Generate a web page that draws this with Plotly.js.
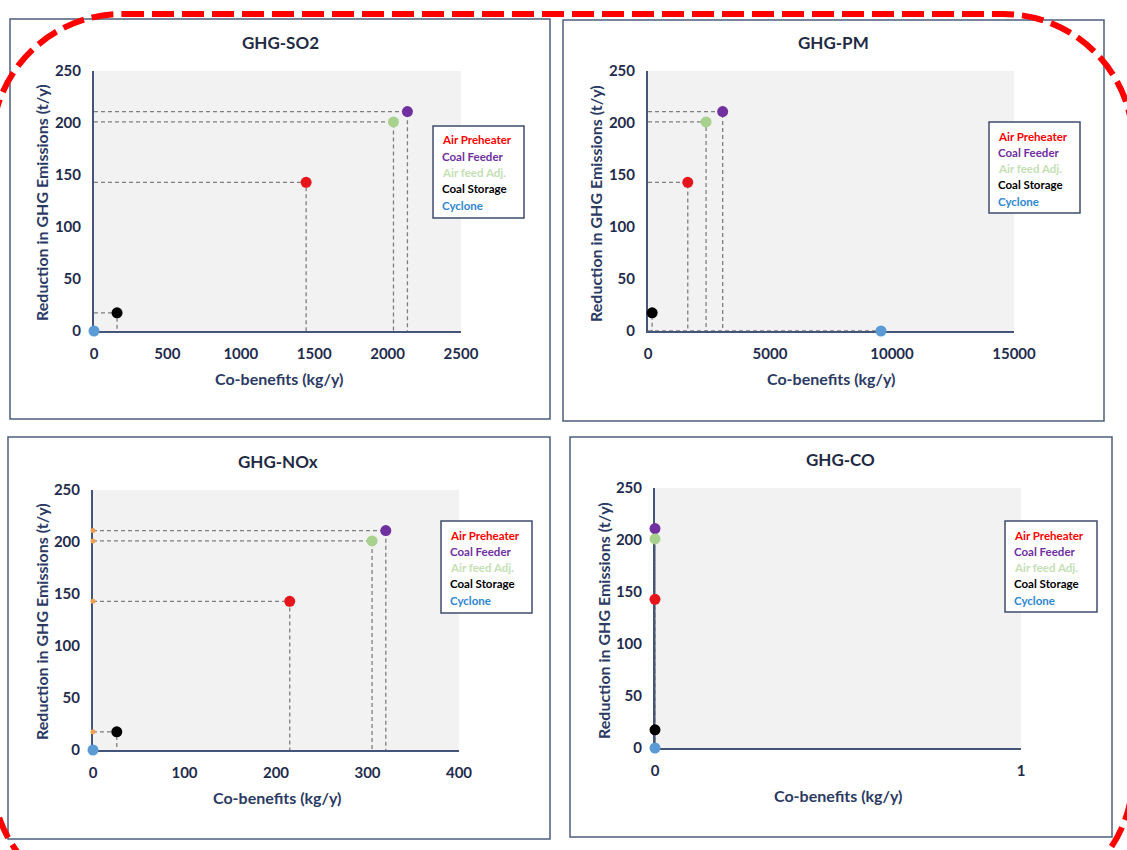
<!DOCTYPE html>
<html><head><meta charset="utf-8">
<script src="https://cdn.plot.ly/plotly-3.0.1.min.js"></script>
<style>html,body{margin:0;padding:0;background:#fff}#chart{width:1127px;height:850px}</style>
</head><body><div id="chart"></div>
<script>
// ---------------- data ----------------
const categories = ['Air Preheater', 'Coal Feeder', 'Air feed Adj.', 'Coal Storage', 'Cyclone'];
const ghgReduction = [143, 211, 201, 17.5, 0];          // t/y
const coBenefitsSO2 = [1445, 2135, 2040, 157, 0];       // kg/y
const coBenefitsPM  = [1630, 3060, 2380, 170, 9550];    // kg/y
const coBenefitsNOx = [215, 320, 305, 26, 0];           // kg/y
const coBenefitsCO  = [0, 0, 0, 0, 0];                  // kg/y
const panelTitles = ['GHG-SO2', 'GHG-PM', 'GHG-NOx', 'GHG-CO'];
const xTicksSO2 = [0, 500, 1000, 1500, 2000, 2500];
const xTicksPM  = [0, 5000, 10000, 15000];
const xTicksNOx = [0, 100, 200, 300, 400];
const xTicksCO  = [0, 1];
const yTicks = [0, 50, 100, 150, 200, 250];
const xAxisTitle = 'Co-benefits (kg/y)';
const yAxisTitle = 'Reduction in GHG Emissions (t/y)';

// ---------------- styles ----------------
const markerColors = ['#E8141C', '#7030A0', '#A9D18E', '#000000', '#5B9BD5'];
const legendColors = ['#FF0000', '#7030A0', '#C5E0B4', '#000000', '#2E86D0'];
const FONT = 'Lato, "Open Sans", "DejaVu Sans", sans-serif';
const NAVY = '#1F2B4D';
const W = 1127, H = 850;
const px = x => x / W;
const py = y => 1 - y / H;

const panels = [
  {values: coBenefitsSO2, xticks: xTicksSO2, plot: [94, 461, 71, 331], box: [10, 550, 19, 419],
   title: [280, 42], xtitle: [279, 379], ytitle: [42, 203], legend: [433, 524, 126, 218]},
  {values: coBenefitsPM, xticks: xTicksPM, plot: [648, 1014, 71, 331], box: [563, 1104, 20, 421],
   title: [833, 43], xtitle: [831, 379], ytitle: [595, 204], legend: [989, 1080, 122, 213]},
  {values: coBenefitsNOx, xticks: xTicksNOx, plot: [93, 459, 490, 750], box: [8, 550, 437, 839],
   title: [278, 461], xtitle: [277, 797], ytitle: [41, 622], legend: [441, 532, 521, 613], axisMarks: true},
  {values: coBenefitsCO, xticks: xTicksCO, plot: [655, 1021, 488, 748], box: [570, 1112, 437, 837],
   title: [840, 459], xtitle: [838, 795], ytitle: [603, 620], legend: [1005, 1097, 521, 612]}
];

const traces = [];
const annotations = [];
const shapes = [];
const layout = {
  width: W, height: H,
  margin: {l: 0, r: 0, t: 0, b: 0},
  paper_bgcolor: '#ffffff',
  plot_bgcolor: '#F2F2F2',
  showlegend: false,
  font: {family: FONT, color: NAVY}
};

panels.forEach((p, k) => {
  const n = k === 0 ? '' : String(k + 1);
  const xa = 'x' + n, ya = 'y' + n;
  const xmax = p.xticks[p.xticks.length - 1];
  const axisCommon = {
    showgrid: false, zeroline: false, showline: true,
    linecolor: '#44557A', linewidth: 2,
    ticks: 'outside', ticklen: 8, tickcolor: 'rgba(0,0,0,0)',
    tickfont: {family: FONT, size: 15, color: NAVY, weight: 700},
    layer: 'below traces', fixedrange: true
  };
  layout['xaxis' + n] = Object.assign({}, axisCommon, {
    domain: [px(p.plot[0]), px(p.plot[1])], anchor: ya,
    range: [0, xmax], tickmode: 'array', tickvals: p.xticks, ticktext: p.xticks.map(String)
  });
  layout['yaxis' + n] = Object.assign({}, axisCommon, {
    domain: [py(p.plot[3]), py(p.plot[2])], anchor: xa,
    range: [0, 250], tickmode: 'array', tickvals: yTicks, ticktext: yTicks.map(String)
  });

  // dashed drop lines to both axes
  categories.forEach((c, i) => {
    traces.push({
      type: 'scatter', mode: 'lines', xaxis: xa, yaxis: ya,
      x: [0, p.values[i], p.values[i]], y: [ghgReduction[i], ghgReduction[i], 0],
      line: {color: '#7F7F7F', width: 1.3, dash: '4px,3px'},
      hoverinfo: 'skip', showlegend: false, cliponaxis: false
    });
  });
  // small orange marks on the y axis (NOx panel)
  if (p.axisMarks) {
    traces.push({
      type: 'scatter', mode: 'markers', xaxis: xa, yaxis: ya,
      x: categories.map(() => 0).slice(0, 4), y: ghgReduction.slice(0, 4),
      marker: {color: '#F0A050', size: 5}, hoverinfo: 'skip', cliponaxis: false
    });
  }
  // data points
  categories.forEach((c, i) => {
    traces.push({
      type: 'scatter', mode: 'markers', xaxis: xa, yaxis: ya, name: c,
      x: [p.values[i]], y: [ghgReduction[i]],
      marker: {color: markerColors[i], size: 11, line: {width: 0}},
      cliponaxis: false
    });
  });

  // panel frame
  shapes.push({type: 'rect', xref: 'paper', yref: 'paper', layer: 'below',
    x0: px(p.box[0]), x1: px(p.box[1]), y0: py(p.box[3]), y1: py(p.box[2]),
    line: {color: '#4E5D7E', width: 1.5}, fillcolor: 'rgba(0,0,0,0)'});
  // legend frame
  shapes.push({type: 'rect', xref: 'paper', yref: 'paper', layer: 'above',
    x0: px(p.legend[0]), x1: px(p.legend[1]), y0: py(p.legend[3]), y1: py(p.legend[2]),
    line: {color: '#3F4E6E', width: 1.5}, fillcolor: '#ffffff'});
  categories.forEach((c, i) => {
    annotations.push({xref: 'paper', yref: 'paper', showarrow: false,
      x: px(p.legend[0] + 7), y: py(p.legend[2] + 14 + i * 16.3),
      xanchor: 'left', yanchor: 'middle', text: c,
      font: {family: FONT, size: 11.5, color: legendColors[i], weight: 700}});
  });

  // titles
  annotations.push({xref: 'paper', yref: 'paper', showarrow: false,
    x: px(p.title[0]), y: py(p.title[1]), xanchor: 'center', yanchor: 'middle',
    text: panelTitles[k], font: {family: FONT, size: 17, color: '#1F2A44', weight: 700}});
  annotations.push({xref: 'paper', yref: 'paper', showarrow: false,
    x: px(p.xtitle[0]), y: py(p.xtitle[1]), xanchor: 'center', yanchor: 'middle',
    text: xAxisTitle, font: {family: FONT, size: 16, color: '#2B3A63', weight: 700}});
  annotations.push({xref: 'paper', yref: 'paper', showarrow: false, textangle: -90,
    x: px(p.ytitle[0]), y: py(p.ytitle[1]), xanchor: 'center', yanchor: 'middle',
    text: yAxisTitle, font: {family: FONT, size: 16, color: '#2B3A63', weight: 700}});
});

// red dashed rounded outline (straight sides lie just outside the picture)
function P(x, y) { return (x / W).toFixed(5) + ',' + (1 - y / H).toFixed(5); }
(function () {
  const x0 = -8, x1 = 1133, y0 = 14, y1 = 905, r = 130, k = r * 0.5523;
  const path = 'M' + P(x0 + r, y0) + ' L' + P(x1 - r, y0) +
    ' C' + P(x1 - r + k, y0) + ' ' + P(x1, y0 + r - k) + ' ' + P(x1, y0 + r) +
    ' L' + P(x1, y1 - r) +
    ' C' + P(x1, y1 - r + k) + ' ' + P(x1 - r + k, y1) + ' ' + P(x1 - r, y1) +
    ' L' + P(x0 + r, y1) +
    ' C' + P(x0 + r - k, y1) + ' ' + P(x0, y1 - r + k) + ' ' + P(x0, y1 - r) +
    ' L' + P(x0, y0 + r) +
    ' C' + P(x0, y0 + r - k) + ' ' + P(x0 + r - k, y0) + ' ' + P(x0 + r, y0) + ' Z';
  shapes.push({type: 'path', xref: 'paper', yref: 'paper', layer: 'above', path: path,
    line: {color: '#FF0000', width: 6, dash: '22px,8px'}, fillcolor: 'rgba(0,0,0,0)'});
})();

layout.shapes = shapes;
layout.annotations = annotations;
Plotly.newPlot('chart', traces, layout, {displayModeBar: false, staticPlot: true});
</script>
</body></html>
